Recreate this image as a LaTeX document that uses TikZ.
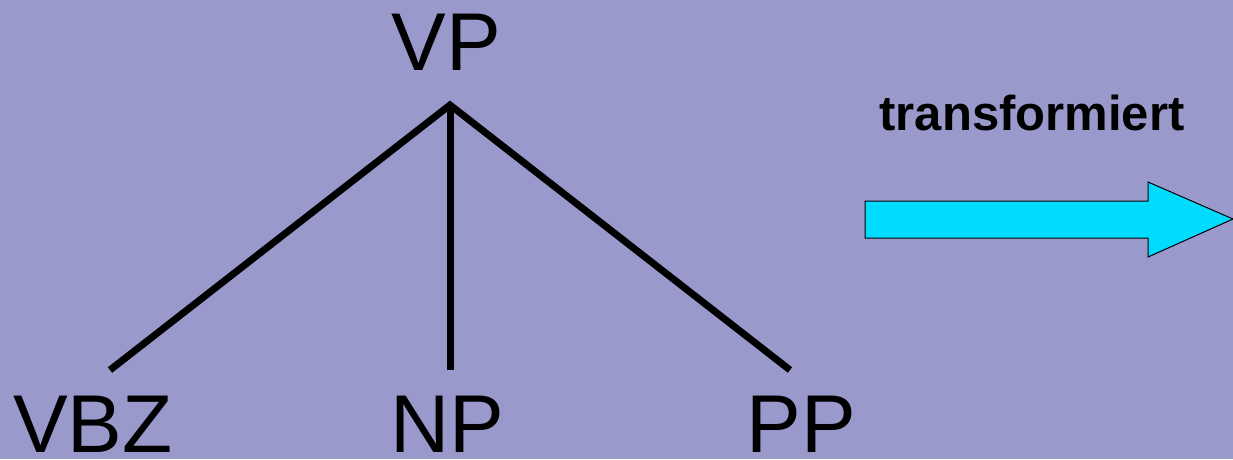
\documentclass[tikz,border=0pt]{standalone}
\usepackage{fontspec}
\setmainfont{Liberation Sans}
\definecolor{bg}{RGB}{153,153,204}
\definecolor{arrowfill}{RGB}{0,220,255}
\begin{document}
\begin{tikzpicture}[x=1pt,y=-1pt,
  cat/.style={anchor=base,inner sep=0pt,font=\fontsize{82}{90}\selectfont},
  branch/.style={line width=7pt},
  lbl/.style={anchor=base,inner sep=0pt,font=\fontsize{49}{54}\selectfont\bfseries}]
  % background
  \fill[bg] (0,0) rectangle (1233,459);
  \useasboundingbox (0,0) rectangle (1233,459);
  % tree labels
  \node[cat] (vp) at (446,70) {VP};
  \node[cat] (vbz) at (93,452) {VBZ};
  \node[cat] (np) at (447,452) {NP};
  \node[cat] (pp) at (801,452) {PP};
  % branch points
  \coordinate (top) at (450,105);
  \coordinate (vbzend) at (110,370);
  \coordinate (npend) at (450,370);
  \coordinate (ppend) at (790,370);
  \draw[branch] (vbzend) -- (top) -- (ppend);
  \draw[branch] (top) -- (npend);
  % transformation arrow
  \node[lbl] (tr) at (1032,130) {transformiert};
  \draw[fill=arrowfill,line width=1pt] (865,201) -- (1148,201) -- (1148,182)
    -- (1233,219) -- (1148,257) -- (1148,238) -- (865,238) -- cycle;
\end{tikzpicture}
\end{document}
